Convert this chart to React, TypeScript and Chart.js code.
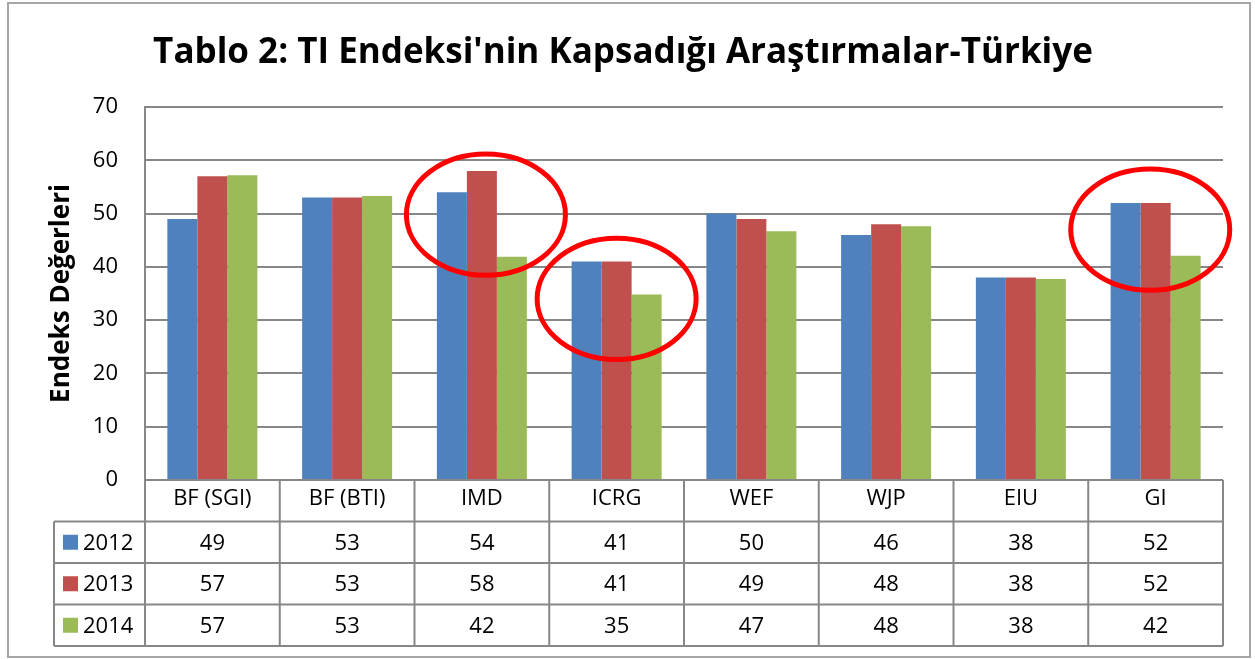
import { useEffect, useRef } from 'react';
import { Chart, registerables } from 'chart.js';

Chart.register(...registerables);

const titleText = "Tablo 2: TI Endeksi'nin Kapsadığı Araştırmalar-Türkiye";
const yAxisTitle = 'Endeks Değerleri';
const categories = ['BF (SGI)', 'BF (BTI)', 'IMD', 'ICRG', 'WEF', 'WJP', 'EIU', 'GI'];
const seriesNames = ['2012', '2013', '2014'];
const values2012 = [49, 53, 54, 41, 50, 46, 38, 52];
const values2013 = [57, 53, 58, 41, 49, 48, 38, 52];
const values2014 = [57.2, 53.3, 41.9, 34.8, 46.7, 47.6, 37.7, 42.1];
const tableValues2012 = [49, 53, 54, 41, 50, 46, 38, 52];
const tableValues2013 = [57, 53, 58, 41, 49, 48, 38, 52];
const tableValues2014 = [57, 53, 42, 35, 47, 48, 38, 42];
const yTickValues = [0, 10, 20, 30, 40, 50, 60, 70];
// highlighted groups (category index, centre value on the y scale, shift in category units)
const highlightCats = [2, 3, 7];
const highlightValues = [49.8, 34.0, 47.0];
const highlightShift = [0.03, 0.0, -0.04];

const COLORS = ['#4F81BD', '#C0504D', '#9BBB59'];
const FONT = "'Open Sans', sans-serif";
const GRID = '#878787';

export default function App() {
  const ref = useRef<HTMLCanvasElement | null>(null);

  useEffect(() => {
    const canvas = ref.current;
    if (!canvas) return;
    const seriesValues = [values2012, values2013, values2014];
    const tableRows = [tableValues2012, tableValues2013, tableValues2014];
    const ROW_H = 41.5;

    const framePlugin = {
      id: 'frame',
      beforeDraw(chart: any) {
        const { ctx } = chart;
        ctx.save();
        ctx.fillStyle = '#ffffff';
        ctx.fillRect(0, 0, chart.width, chart.height);
        ctx.strokeStyle = '#a6a6a6';
        ctx.lineWidth = 2;
        ctx.strokeRect(8, 3, 1242, 654);
        ctx.fillStyle = '#000';
        ctx.font = `bold 35px ${FONT}`;
        ctx.textAlign = 'center';
        ctx.textBaseline = 'alphabetic';
        ctx.fillText(titleText, 623, 63);
        ctx.restore();
      },
    };

    const highlightPlugin = {
      id: 'highlight',
      afterDatasetsDraw(chart: any) {
        const { ctx, scales } = chart;
        const x = scales.x;
        const y = scales.y;
        const cw = x.width / categories.length;
        ctx.save();
        ctx.strokeStyle = '#FF0000';
        ctx.lineWidth = 5;
        highlightCats.forEach((c, i) => {
          const cx = x.getPixelForValue(c) + highlightShift[i] * cw;
          const cy = y.getPixelForValue(highlightValues[i]);
          ctx.beginPath();
          ctx.ellipse(cx, cy, cw * 0.59, cw * 0.45, 0, 0, Math.PI * 2);
          ctx.stroke();
        });
        ctx.restore();
      },
    };

    const tablePlugin = {
      id: 'dataTable',
      afterDraw(chart: any) {
        const { ctx, chartArea } = chart;
        const x = chart.scales.x;
        const left = chartArea.left;
        const right = chartArea.right;
        const top = chartArea.bottom;
        const legendLeft = 54;
        const cw = (right - left) / categories.length;
        ctx.save();
        ctx.strokeStyle = GRID;
        ctx.lineWidth = 2;
        ctx.beginPath();
        ctx.moveTo(left, top);
        ctx.lineTo(right, top);
        for (let r = 1; r <= 4; r++) {
          const yy = top + r * ROW_H;
          ctx.moveTo(legendLeft, yy);
          ctx.lineTo(right, yy);
        }
        for (let i = 0; i <= categories.length; i++) {
          const xx = left + i * cw;
          ctx.moveTo(xx, top);
          ctx.lineTo(xx, top + 4 * ROW_H);
        }
        ctx.moveTo(legendLeft, top + ROW_H);
        ctx.lineTo(legendLeft, top + 4 * ROW_H);
        ctx.stroke();

        ctx.fillStyle = '#000';
        ctx.font = `22px ${FONT}`;
        ctx.textBaseline = 'middle';
        tableRows.forEach((row, r) => {
          const cy = top + (r + 1.5) * ROW_H;
          ctx.fillStyle = COLORS[r];
          ctx.fillRect(63, cy - 7.5, 15, 15);
          ctx.fillStyle = '#000';
          ctx.textAlign = 'left';
          ctx.fillText(seriesNames[r], 83, cy + 1);
          ctx.textAlign = 'center';
          row.forEach((v, i) => {
            ctx.fillText(String(v), x.getPixelForValue(i), cy + 1);
          });
        });
        ctx.restore();
      },
    };

    const chart = new Chart(canvas, {
      type: 'bar',
      data: {
        labels: categories,
        datasets: seriesNames.map((name, i) => ({
          label: name,
          data: seriesValues[i],
          backgroundColor: COLORS[i],
          borderWidth: 0,
          barPercentage: 1,
          categoryPercentage: 0.668,
        })),
      },
      options: {
        responsive: false,
        animation: false,
        devicePixelRatio: 1,
        layout: { padding: { left: 0, right: 32, top: 107, bottom: 13 } },
        plugins: {
          legend: { display: false },
          title: { display: false },
          tooltip: { enabled: false },
        },
        scales: {
          x: {
            grid: { display: false, drawTicks: false },
            border: { display: false },
            ticks: {
              color: '#000',
              font: { family: FONT, size: 22 },
              padding: 6,
              maxRotation: 0,
              autoSkip: false,
            },
            afterFit(scale: any) {
              scale.height = 4 * ROW_H;
            },
          },
          y: {
            min: 0,
            max: 70,
            afterBuildTicks(scale: any) {
              scale.ticks = yTickValues.map((v) => ({ value: v }));
            },
            grid: { color: GRID, lineWidth: 2, drawTicks: false },
            border: { display: true, color: GRID, width: 2 },
            ticks: {
              color: '#000',
              font: { family: FONT, size: 22 },
              padding: 27,
            },
            title: {
              display: true,
              text: yAxisTitle,
              color: '#000',
              font: { family: FONT, size: 26, weight: 'bold' },
              padding: { top: 46, bottom: 0 },
            },
            afterFit(scale: any) {
              scale.width = 145;
            },
          },
        },
      },
      plugins: [framePlugin, highlightPlugin, tablePlugin],
    });
    return () => chart.destroy();
  }, []);

  return (
    <div style={{ position: 'absolute', left: 0, top: 0, width: 1255, height: 659 }}>
      <canvas ref={ref} width={1255} height={659} style={{ display: 'block' }} />
    </div>
  );
}
